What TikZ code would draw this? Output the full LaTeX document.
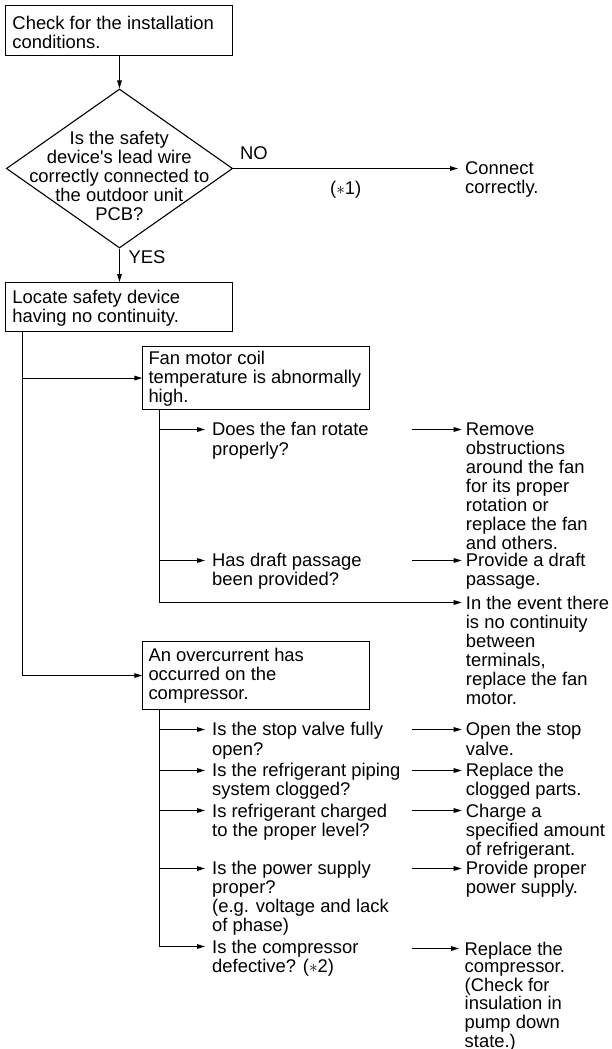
\documentclass[tikz,border=0pt]{standalone}
\usepackage{fontspec}
\setmainfont{Liberation Sans}
\usetikzlibrary{arrows.meta,shapes.geometric}

% multi-line text blocks; the baseline of the block is that of its first line
\newcommand{\txtlines}[2][19.1pt]{{\fontsize{18.4pt}{#1}\selectfont\begin{tabular}[t]{@{}l@{}}#2\end{tabular}}}
\newcommand{\txtcentre}[2][19pt]{{\fontsize{18.4pt}{#1}\selectfont\begin{tabular}[t]{@{}c@{}}#2\end{tabular}}}

\tikzset{
  box/.style={draw, line width=1.1pt, rectangle, inner sep=0pt, anchor=north west},
  decision/.style={draw, line width=1.1pt, diamond, inner sep=0pt},
  txt/.style={inner sep=0pt, anchor=base west},
  ctxt/.style={inner sep=0pt, anchor=base},
  ln/.style={line width=1.1pt},
  arr/.style={line width=1.1pt, -{Triangle[length=8pt,width=4.6pt]}},
}

\begin{document}
\begin{tikzpicture}[x=1pt,y=-1pt]
\useasboundingbox (0,0) rectangle (611,1049);

% ---------- top: installation check and wiring decision ----------
\node[box, minimum width=227.3pt, minimum height=50pt] (b1) at (5,5) {};
\node[txt] (t1) at (12.3,29.5) {\txtlines{Check for the installation\\conditions.}};

\node[decision, minimum width=226.3pt, minimum height=159pt] (d) at (119.5,168.5) {};
\node[ctxt] (dt) at (119.3,144.6) {\txtcentre{Is the safety\\device\textquotesingle s lead wire\\correctly connected to\\the outdoor unit\\PCB?}};

\draw[arr] (b1.south -| d.north) -- (d.north);

\node[txt] (no) at (240,159.5) {\txtlines{NO}};
\node[txt] (star1) at (330,194.5) {\txtlines{($\ast$1)}};
\coordinate (conA) at (458,168.5);
\node[txt] (con) at (465,174.5) {\txtlines{Connect\\correctly.}};
\draw[arr] (d.east) -- (conA);

\node[txt] (yes) at (128.3,263.5) {\txtlines{YES}};

\node[box, minimum width=227.3pt, minimum height=49pt] (b2) at (5,282) {};
\node[txt] (t2) at (12.3,303.5) {\txtlines{Locate safety device\\having no continuity.}};
\draw[arr] (d.south) -- (d.south |- b2.north);

% ---------- fan motor branch ----------
\node[box, minimum width=227pt, minimum height=63.6pt] (fan) at (142.3,345.7) {};
\node[txt] (tfan) at (148.3,364.3) {\txtlines{Fan motor coil\\temperature is abnormally\\high.}};

\node[box, minimum width=227pt, minimum height=68pt] (oc) at (142.3,641) {};
\node[txt] (toc) at (148.3,661.5) {\txtlines{An overcurrent has\\occurred on the\\compressor.}};

\draw[arr] ([xshift=17.5pt]b2.south west) |- (oc.west);
\draw[arr] ([xshift=17.5pt]b2.south west |- fan.west) -- (fan.west);

\coordinate (q1a) at (205,429.5);
\coordinate (q2a) at (205,560.5);
\coordinate (r3a) at (461.7,602.5);
\draw[arr] ([xshift=17.2pt]fan.south west) |- (r3a);
\draw[arr] ([xshift=17.2pt]fan.south west |- q1a) -- (q1a);
\draw[arr] ([xshift=17.2pt]fan.south west |- q2a) -- (q2a);

\node[txt] (q1) at (212,435.9) {\txtlines{Does the fan rotate\\properly?}};
\node[txt] (q2) at (212,566.6) {\txtlines{Has draft passage\\been provided?}};

\coordinate (r1s) at (412.3,429.5);  \coordinate (r1a) at (461.7,429.5);
\coordinate (r2s) at (412.3,560.5);  \coordinate (r2a) at (461.7,560.5);
\draw[arr] (r1s) -- (r1a);
\draw[arr] (r2s) -- (r2a);

\node[txt] (r1) at (465.7,435.9) {\txtlines[18.8pt]{Remove\\obstructions\\around the fan\\for its proper\\rotation or\\replace the fan\\and others.}};
\node[txt] (r2) at (465.7,566.6) {\txtlines{Provide a draft\\passage.}};
\node[txt] (r3) at (465.7,609.3) {\txtlines{In the event there\\is no continuity\\between\\terminals,\\replace the fan\\motor.}};

% ---------- compressor overcurrent branch ----------
\coordinate (q3a) at (205,729.5);
\coordinate (q4a) at (205,770.5);
\coordinate (q5a) at (205,810.5);
\coordinate (q6a) at (205,868.5);
\coordinate (q7a) at (205,946.5);
\draw[arr] ([xshift=17.2pt]oc.south west) |- (q7a);
\draw[arr] ([xshift=17.2pt]oc.south west |- q3a) -- (q3a);
\draw[arr] ([xshift=17.2pt]oc.south west |- q4a) -- (q4a);
\draw[arr] ([xshift=17.2pt]oc.south west |- q5a) -- (q5a);
\draw[arr] ([xshift=17.2pt]oc.south west |- q6a) -- (q6a);

\node[txt] (q3) at (212,735.9) {\txtlines{Is the stop valve fully\\open?}};
\node[txt] (q4) at (212,776.6) {\txtlines{Is the refrigerant piping\\system clogged?}};
\node[txt] (q5) at (212,817.3) {\txtlines{Is refrigerant charged\\to the proper level?}};
\node[txt] (q6) at (212,874.6) {\txtlines[18.6pt]{Is the power supply\\proper?\\(e.g. voltage and lack\\of phase)}};
\node[txt] (q7) at (212,953.3) {\txtlines{Is the compressor\\defective? ($\ast$2)}};

\coordinate (r4s) at (412.3,729.5);  \coordinate (r4a) at (461.7,729.5);
\coordinate (r5s) at (412.3,770.5);  \coordinate (r5a) at (461.7,770.5);
\coordinate (r6s) at (412.3,810.5);  \coordinate (r6a) at (461.7,810.5);
\coordinate (r7s) at (412.3,868.5);  \coordinate (r7a) at (461.7,868.5);
\coordinate (r8s) at (412.3,948.5);  \coordinate (r8a) at (459,948.5);
\draw[arr] (r4s) -- (r4a);
\draw[arr] (r5s) -- (r5a);
\draw[arr] (r6s) -- (r6a);
\draw[arr] (r7s) -- (r7a);
\draw[arr] (r8s) -- (r8a);

\node[txt] (r4) at (465.7,735.9) {\txtlines{Open the stop\\valve.}};
\node[txt] (r5) at (465.7,776.6) {\txtlines{Replace the\\clogged parts.}};
\node[txt] (r6) at (465.7,817.3) {\txtlines{Charge a\\specified amount\\of refrigerant.}};
\node[txt] (r7) at (465.7,874.6) {\txtlines{Provide proper\\power supply.}};
\node[txt] (r8) at (464.5,955) {\txtlines[17.6pt]{Replace the\\compressor.\\(Check for\\insulation in\\pump down\\state.)}};
\end{tikzpicture}
\end{document}
